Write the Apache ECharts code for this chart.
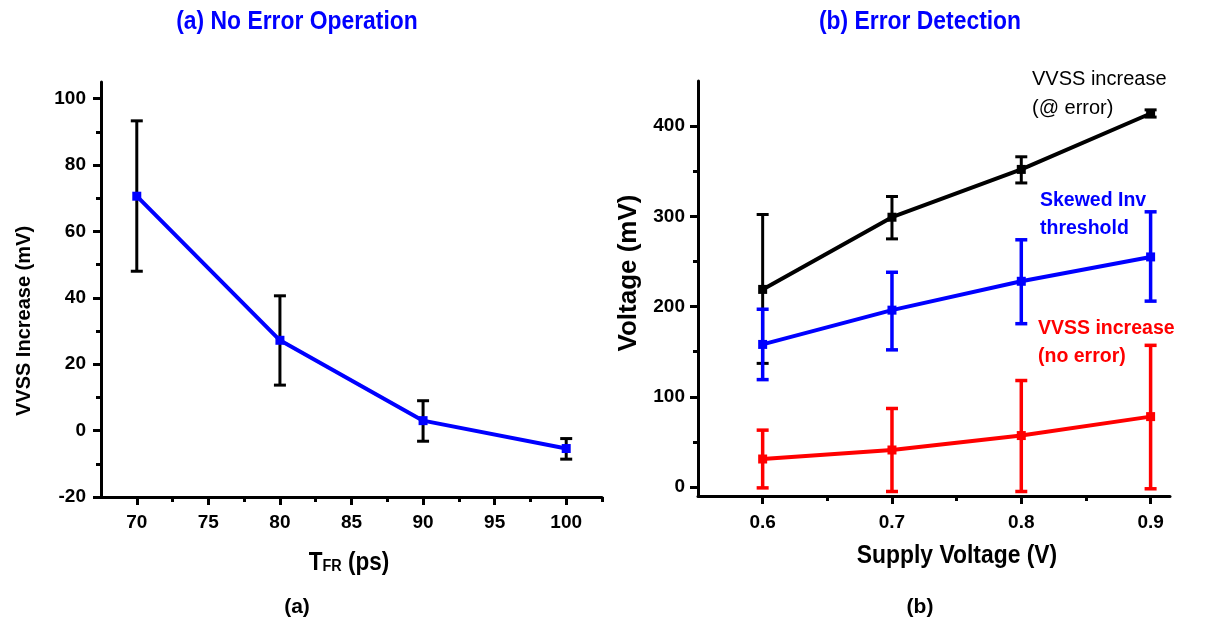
<!DOCTYPE html>
<html>
<head>
<meta charset="utf-8">
<script src="https://cdn.jsdelivr.net/npm/echarts@6/dist/echarts.min.js"></script>
<style>
  html, body { margin: 0; padding: 0; background: #fff; }
  #chart { width: 1217px; height: 631px; }
</style>
</head>
<body>
<div id="chart"></div>
<script>
// (a) VVSS increase vs. T_FR, mean with min/max bars
const tfrPs = [70, 80, 90, 100];
const vvssMean = [70.6, 27.2, 3.0, -5.4];
const vvssLow = [48.0, 13.7, -3.2, -8.6];
const vvssHigh = [93.3, 40.6, 9.0, -2.4];

// (b) Voltages vs. supply voltage
const supplyV = [0.6, 0.7, 0.8, 0.9];
const atErrMean = [219, 299, 352, 414];
const atErrLow = [137, 275, 337, 410];
const atErrHigh = [302, 322, 366, 418];
const invMean = [158, 196, 228, 255];
const invLow = [119, 152, 181, 206];
const invHigh = [197, 238, 274, 305];
const noErrMean = [31, 41, 57, 78];
const noErrLow = [-1, -5, -5, -2];
const noErrHigh = [63, 87, 118, 157];

// Tick values
const aXMajor = [70, 75, 80, 85, 90, 95, 100];
const aXMinor = [72.5, 77.5, 82.5, 87.5, 92.5, 97.5, 102.5];
const aYMajor = [-20, 0, 20, 40, 60, 80, 100];
const aYMinor = [-10, 10, 30, 50, 70, 90];
const bXMajor = [0.6, 0.7, 0.8, 0.9];
const bXMinor = [0.65, 0.75, 0.85];
const bYMajor = [0, 100, 200, 300, 400];
const bYMinor = [50, 150, 250, 350];

const FONT = '"Liberation Sans", Arial, sans-serif';
const BLUE = '#0000ff';
const RED = '#ff0000';
const BLACK = '#000000';

function tickLabels(values, margin, formatter) {
  const o = { show: true, customValues: values, color: BLACK, fontFamily: FONT, fontWeight: 'bold', fontSize: 19, margin: margin };
  if (formatter) o.formatter = formatter;
  return o;
}
function majorAxis(min, max, ticks, extra) {
  return Object.assign({
    type: 'value', min: min, max: max,
    splitLine: { show: false },
    axisLine: { show: true, onZero: false, lineStyle: { color: BLACK, width: 3 } },
    axisTick: { show: true, customValues: ticks, length: 8, lineStyle: { color: BLACK, width: 3 } }
  }, extra || {});
}
function minorAxis(min, max, ticks, extra) {
  return Object.assign({
    type: 'value', min: min, max: max,
    splitLine: { show: false },
    axisLine: { show: false, onZero: false },
    axisTick: { show: true, customValues: ticks, length: 5, lineStyle: { color: BLACK, width: 3 } },
    axisLabel: { show: false }
  }, extra || {});
}

function errorBars(xs, lows, highs, color, axisIdx, capW, lw, z) {
  return {
    type: 'custom',
    xAxisIndex: axisIdx, yAxisIndex: axisIdx,
    silent: true, animation: false, z: z,
    data: xs.map((x, i) => [x, lows[i], highs[i]]),
    renderItem: function (params, api) {
      const lo = api.coord([api.value(0), api.value(1)]);
      const hi = api.coord([api.value(0), api.value(2)]);
      const h = capW / 2;
      const st = { stroke: color, lineWidth: lw };
      return {
        type: 'group',
        children: [
          { type: 'line', shape: { x1: hi[0], y1: hi[1], x2: lo[0], y2: lo[1] }, style: st },
          { type: 'line', shape: { x1: hi[0] - h, y1: hi[1], x2: hi[0] + h, y2: hi[1] }, style: st },
          { type: 'line', shape: { x1: lo[0] - h, y1: lo[1], x2: lo[0] + h, y2: lo[1] }, style: st }
        ]
      };
    }
  };
}

function lineSeries(xs, ys, color, axisIdx, z) {
  return {
    type: 'line',
    xAxisIndex: axisIdx, yAxisIndex: axisIdx,
    data: xs.map((x, i) => [x, ys[i]]),
    symbol: 'rect', symbolSize: 9,
    lineStyle: { color: color, width: 4 },
    itemStyle: { color: color },
    silent: true, animation: false, z: z
  };
}

function text(x, y, str, opts) {
  return {
    type: 'text', x: x, y: y, silent: true,
    rotation: opts.rotation || 0,
    scaleX: opts.scaleX || 1,
    style: Object.assign({
      text: str, fontFamily: FONT, fill: BLACK,
      align: 'center', verticalAlign: 'middle'
    }, opts.style)
  };
}

const chart = echarts.init(document.getElementById('chart'), null, { renderer: 'canvas' });

chart.setOption({
  backgroundColor: '#ffffff',
  animation: false,
  grid: [
    { left: 101, top: 82, width: 501, height: 415 },
    { left: 698, top: 81, width: 472, height: 415 }
  ],
  xAxis: [
    majorAxis(67.5, 102.5, aXMajor, { gridIndex: 0, position: 'bottom', axisLabel: tickLabels(aXMajor, 16) }),
    majorAxis(0.55, 0.915, bXMajor, { gridIndex: 1, position: 'bottom', axisLabel: tickLabels(bXMajor, 17, v => v.toFixed(1)) }),
    minorAxis(67.5, 102.5, aXMinor, { gridIndex: 0, position: 'bottom' }),
    minorAxis(0.55, 0.915, bXMinor, { gridIndex: 1, position: 'bottom' })
  ],
  yAxis: [
    majorAxis(-20, 105, aYMajor, { gridIndex: 0, position: 'left', axisLabel: tickLabels(aYMajor, 15) }),
    majorAxis(-10, 450, bYMajor, { gridIndex: 1, position: 'left', axisLabel: tickLabels(bYMajor, 13) }),
    minorAxis(-20, 105, aYMinor, { gridIndex: 0, position: 'left' }),
    minorAxis(-10, 450, bYMinor, { gridIndex: 1, position: 'left' })
  ],
  series: [
    errorBars(tfrPs, vvssLow, vvssHigh, BLACK, 0, 12, 3, 2),
    lineSeries(tfrPs, vvssMean, BLUE, 0, 3),

    errorBars(supplyV, atErrLow, atErrHigh, BLACK, 1, 12, 3, 2),
    lineSeries(supplyV, atErrMean, BLACK, 1, 3),
    errorBars(supplyV, invLow, invHigh, BLUE, 1, 12, 3.5, 4),
    lineSeries(supplyV, invMean, BLUE, 1, 5),
    errorBars(supplyV, noErrLow, noErrHigh, RED, 1, 12, 3.5, 6),
    lineSeries(supplyV, noErrMean, RED, 1, 7)
  ],
  graphic: [
    // panel titles
    text(297, 22, '(a) No Error Operation', { scaleX: 0.88, style: { fill: BLUE, fontWeight: 'bold', fontSize: 26 } }),
    text(920, 22, '(b) Error Detection', { scaleX: 0.88, style: { fill: BLUE, fontWeight: 'bold', fontSize: 26 } }),
    // axis names
    text(24, 321, 'VVSS Increase (mV)', { rotation: Math.PI / 2, style: { fontWeight: 'bold', fontSize: 20 } }),
    text(629, 273, 'Voltage (mV)', { rotation: Math.PI / 2, style: { fontWeight: 'bold', fontSize: 26 } }),
    {
      type: 'text', x: 349, y: 563, silent: true, scaleX: 0.9,
      style: {
        text: '{m|T}{s|FR}{m| (ps)}', align: 'center', verticalAlign: 'middle',
        rich: {
          m: { fontFamily: FONT, fontWeight: 'bold', fontSize: 25, fill: BLACK },
          s: { fontFamily: FONT, fontWeight: 'bold', fontSize: 16, fill: BLACK, padding: [8, 0, 0, 0] }
        }
      }
    },
    text(957, 556, 'Supply Voltage (V)', { scaleX: 0.88, style: { fontWeight: 'bold', fontSize: 26 } }),
    // panel captions
    text(297, 607, '(a)', { style: { fontWeight: 'bold', fontSize: 21 } }),
    text(920, 607, '(b)', { style: { fontWeight: 'bold', fontSize: 21 } }),
    // curve annotations
    text(1032, 65, 'VVSS increase\n(@ error)', { style: { align: 'left', verticalAlign: 'top', fontSize: 20, lineHeight: 29 } }),
    text(1040, 187, 'Skewed Inv\nthreshold', { style: { align: 'left', verticalAlign: 'top', fontSize: 19.5, fontWeight: 'bold', lineHeight: 28, fill: BLUE } }),
    text(1038, 315, 'VVSS increase\n(no error)', { style: { align: 'left', verticalAlign: 'top', fontSize: 19.5, fontWeight: 'bold', lineHeight: 28, fill: RED } })
  ]
});
</script>
</body>
</html>
